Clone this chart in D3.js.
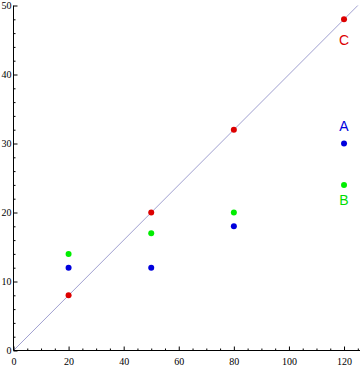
<!DOCTYPE html>
<html><head><meta charset="utf-8">
<script src="https://cdn.jsdelivr.net/npm/d3@7"></script>
<style>body{margin:0;background:#fff}svg{display:block}</style>
</head><body>
<script>
const xs = [20, 50, 80, 120];
const seriesA = [12, 12, 18, 30];
const seriesB = [14, 17, 20, 24];
const seriesC = [8, 20, 32, 48];
const labels = [
  {name: "A", x: 120, y: 31.8, color: "#0000dd"},
  {name: "B", x: 120, y: 21.1, color: "#00dd00"},
  {name: "C", x: 120, y: 44.3, color: "#dd0000"}
];
const lineSlope = 0.4;
const xTicks = [0, 20, 40, 60, 80, 100, 120];
const yTicks = [0, 10, 20, 30, 40, 50];

const W = 360, H = 366;
const svg = d3.select("body").append("svg").attr("width", W).attr("height", H);
const x = d3.scaleLinear().domain([0, 125]).range([13.5, 357.8]);
const y = d3.scaleLinear().domain([0, 50]).range([350.5, 5.5]);

// reference line
svg.append("line")
  .attr("x1", x(0)).attr("y1", y(0))
  .attr("x2", x(125)).attr("y2", y(125 * lineSlope))
  .attr("stroke", "#a0a0d0").attr("stroke-width", 1);

// axes
const xAxisG = svg.append("g").attr("transform", `translate(0,${y(0)})`);
xAxisG.call(d3.axisTop(x).tickValues(d3.range(0, 126, 5)).tickSize(2).tickFormat(""));
xAxisG.call(g => g.selectAll(".tick line").filter(d => d % 20 === 0).attr("y2", -4));
xAxisG.select(".domain").attr("d", `M${x(0)},0H${W}`);
const xLab = svg.append("g").attr("transform", `translate(0,${y(0)})`)
  .call(d3.axisBottom(x).tickValues(xTicks).tickSize(0).tickPadding(7));
xLab.select(".domain").remove();
xLab.selectAll("text").attr("font-family", "Liberation Serif, serif").attr("font-size", 10).attr("fill", "#000");

const yAxisG = svg.append("g").attr("transform", `translate(${x(0)},0)`);
yAxisG.call(d3.axisRight(y).tickValues(d3.range(0, 51, 2)).tickSize(2).tickFormat(""));
yAxisG.call(g => g.selectAll(".tick line").filter(d => d % 10 === 0).attr("x2", 4));
yAxisG.select(".domain").attr("d", `M0,${y(0)}V${y(50)}`);
const yLab = svg.append("g").attr("transform", `translate(${x(0)},0)`)
  .call(d3.axisLeft(y).tickValues(yTicks).tickSize(0).tickPadding(2));
yLab.select(".domain").remove();
yLab.selectAll("text").attr("font-family", "Liberation Serif, serif").attr("font-size", 10).attr("fill", "#000");
svg.selectAll(".tick line").attr("stroke", "#000");
svg.selectAll(".domain").attr("stroke", "#000");

// points
const series = [
  {vals: seriesB, color: "#00ee00"},
  {vals: seriesA, color: "#0000dd"},
  {vals: seriesC, color: "#dd0000"}
];
series.forEach(s => {
  svg.append("g").selectAll("circle").data(xs).join("circle")
    .attr("cx", (d) => x(d)).attr("cy", (d, i) => y(s.vals[i]))
    .attr("r", 3).attr("fill", s.color);
});

svg.append("g").selectAll("text").data(labels).join("text")
  .attr("x", d => x(d.x)).attr("y", d => y(d.y))
  .attr("text-anchor", "middle")
  .attr("font-family", "Liberation Sans, Arial, sans-serif").attr("font-size", 14)
  .attr("fill", d => d.color).text(d => d.name);
</script>
</body></html>
